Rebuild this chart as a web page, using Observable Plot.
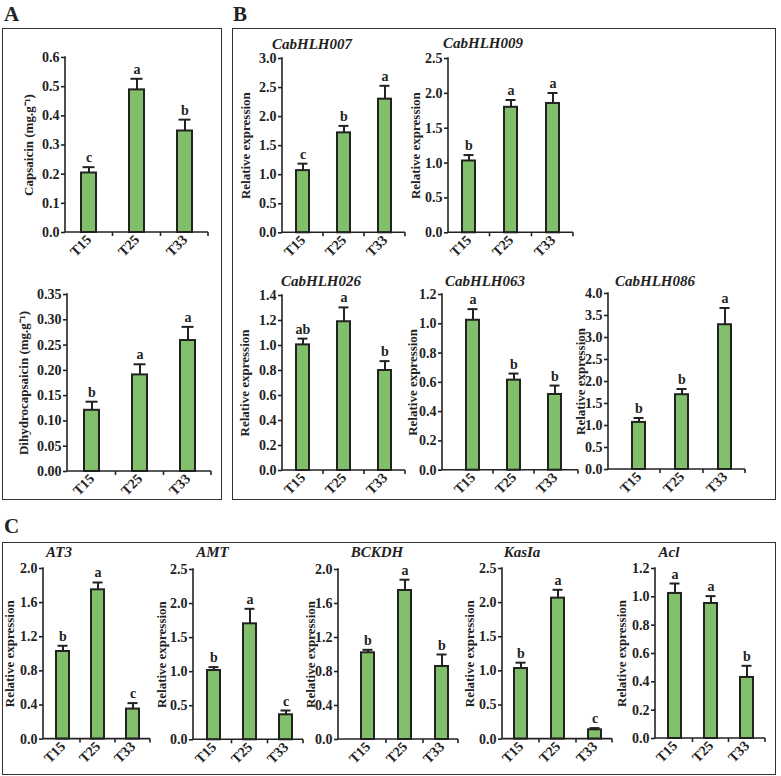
<!DOCTYPE html>
<html><head><meta charset="utf-8">
<script src="https://cdn.jsdelivr.net/npm/d3@7"></script>
<script src="https://cdn.jsdelivr.net/npm/@observablehq/plot@0.6"></script>
<style>
html,body{margin:0;padding:0;background:#fff;}
#root{position:relative;width:781px;height:776px;overflow:hidden;font-family:"Liberation Serif","Times New Roman",serif;color:#222;background:#fff;}
.box{position:absolute;border:1.5px solid #333;box-sizing:border-box;}
.panel{position:absolute;font-weight:bold;font-size:21px;line-height:1;}
.title{position:absolute;font-weight:bold;font-style:italic;font-size:15px;line-height:1;transform:translateX(-50%);white-space:nowrap;}
.chart{position:absolute;}
.chart svg{overflow:visible;max-width:none;}
</style></head><body><div id="root"></div>
<script>
const categories = ["T15", "T25", "T33"];

const capsaicinMean = [0.204, 0.489, 0.348];
const capsaicinSE = [0.020, 0.038, 0.039];
const capsaicinLetters = ["c", "a", "b"];

const dihydroMean = [0.121, 0.191, 0.259];
const dihydroSE = [0.017, 0.021, 0.027];
const dihydroLetters = ["b", "a", "a"];

const bHLH007Mean = [1.07, 1.72, 2.30];
const bHLH007SE = [0.12, 0.12, 0.23];
const bHLH007Letters = ["c", "b", "a"];

const bHLH009Mean = [1.03, 1.80, 1.855];
const bHLH009SE = [0.085, 0.105, 0.15];
const bHLH009Letters = ["b", "a", "a"];

const bHLH026Mean = [1.005, 1.19, 0.80];
const bHLH026SE = [0.05, 0.115, 0.075];
const bHLH026Letters = ["ab", "a", "b"];

const bHLH063Mean = [1.024, 0.615, 0.517];
const bHLH063SE = [0.076, 0.045, 0.061];
const bHLH063Letters = ["a", "b", "b"];

const bHLH086Mean = [1.07, 1.70, 3.29];
const bHLH086SE = [0.10, 0.13, 0.38];
const bHLH086Letters = ["b", "b", "a"];

const AT3Mean = [1.027, 1.75, 0.352];
const AT3SE = [0.067, 0.086, 0.07];
const AT3Letters = ["b", "a", "c"];

const AMTMean = [1.017, 1.703, 0.367];
const AMTSE = [0.05, 0.22, 0.063];
const AMTLetters = ["b", "a", "c"];

const BCKDHMean = [1.02, 1.753, 0.859];
const BCKDHSE = [0.035, 0.127, 0.141];
const BCKDHLetters = ["b", "a", "b"];

const KasIaMean = [1.034, 2.066, 0.136];
const KasIaSE = [0.086, 0.122, 0.025];
const KasIaLetters = ["b", "a", "c"];

const AclMean = [1.024, 0.953, 0.431];
const AclSE = [0.07, 0.052, 0.082];
const AclLetters = ["a", "a", "b"];

const INK = "#222";
const GREEN = "#82bf6b";
const SERIF = "'Liberation Serif','Times New Roman',serif";

// layout (pixel geometry of each small chart)
const layout = [
  {mean: capsaicinMean, se: capsaicinSE, letters: capsaicinLetters, ylabel: "Capsaicin (mg.g\u207B\u00B9)", max: 0.6, step: 0.1, fmt: ".1f", ax: 65, end: 208, top: 57, bot: 232, c1: 88, c3: 185, bw: 15, lab: 37},
  {mean: dihydroMean, se: dihydroSE, letters: dihydroLetters, ylabel: "Dihydrocapsaicin (mg.g\u207B\u00B9)", max: 0.35, step: 0.05, fmt: ".2f", ax: 67, end: 211, top: 294, bot: 471, c1: 91, c3: 187, bw: 15, lab: 44},
  {mean: bHLH007Mean, se: bHLH007SE, letters: bHLH007Letters, title: "CabHLH007", tx: 312, ty: 50, ylabel: "Relative expression", max: 3, step: 0.5, fmt: ".1f", ax: 282, end: 405, top: 57.7, bot: 232, c1: 301.7, c3: 385, bw: 13.5, lab: 37},
  {mean: bHLH009Mean, se: bHLH009SE, letters: bHLH009Letters, title: "CabHLH009", tx: 483, ty: 49, ylabel: "Relative expression", max: 2.5, step: 0.5, fmt: ".1f", ax: 448, end: 573, top: 57.7, bot: 232, c1: 468, c3: 553, bw: 13.5, lab: 33},
  {mean: bHLH026Mean, se: bHLH026SE, letters: bHLH026Letters, title: "CabHLH026", tx: 321, ty: 287, ylabel: "Relative expression", max: 1.4, step: 0.2, fmt: ".1f", ax: 282, end: 405, top: 295, bot: 470, c1: 301.7, c3: 385, bw: 13.5, lab: 38},
  {mean: bHLH063Mean, se: bHLH063SE, letters: bHLH063Letters, title: "CabHLH063", tx: 485, ty: 287, ylabel: "Relative expression", max: 1.2, step: 0.2, fmt: ".1f", ax: 442, end: 578, top: 294.3, bot: 470, c1: 471.7, c3: 555, bw: 13.5, lab: 30},
  {mean: bHLH086Mean, se: bHLH086SE, letters: bHLH086Letters, title: "CabHLH086", tx: 655, ty: 287, ylabel: "Relative expression", max: 4, step: 0.5, fmt: ".1f", ax: 608, end: 745, top: 293.3, bot: 469.3, c1: 638, c3: 725, bw: 13.5, lab: 28},
  {mean: AT3Mean, se: AT3SE, letters: AT3Letters, title: "AT3", tx: 59, ty: 558, ylabel: "Relative expression", max: 2, step: 0.4, fmt: ".1f", ax: 43, end: 150, top: 567.7, bot: 738.3, c1: 61.7, c3: 132.7, bw: 13, lab: 34},
  {mean: AMTMean, se: AMTSE, letters: AMTLetters, title: "AMT", tx: 212.5, ty: 558, ylabel: "Relative expression", max: 2.5, step: 0.5, fmt: ".1f", ax: 193, end: 303, top: 569, bot: 739.3, c1: 212.7, c3: 286, bw: 13, lab: 32},
  {mean: BCKDHMean, se: BCKDHSE, letters: BCKDHLetters, title: "BCKDH", tx: 377, ty: 558, ylabel: "Relative expression", max: 2, step: 0.4, fmt: ".1f", ax: 338, end: 458, top: 569, bot: 739, c1: 366.7, c3: 441.7, bw: 13, lab: 28},
  {mean: KasIaMean, se: KasIaSE, letters: KasIaLetters, title: "KasIa", tx: 522, ty: 558, ylabel: "Relative expression", max: 2.5, step: 0.5, fmt: ".1f", ax: 501.7, end: 611.7, top: 567.7, bot: 738.3, c1: 520, c3: 594, bw: 13, lab: 33},
  {mean: AclMean, se: AclSE, letters: AclLetters, title: "Acl", tx: 669, ty: 558, ylabel: "Relative expression", max: 1.2, step: 0.2, fmt: ".1f", ax: 655, end: 765, top: 568.3, bot: 738.3, c1: 673.3, c3: 746.7, bw: 13, lab: 34}
];

const boxes = [
  {x: 2, y: 28, w: 220, h: 472},
  {x: 232, y: 28, w: 544, h: 472},
  {x: 2, y: 542, w: 774, h: 233}
];
const panels = [
  {t: "A", x: 4, y: 22},
  {t: "B", x: 233, y: 22},
  {t: "C", x: 4, y: 534}
];

const root = document.getElementById("root");
for (const b of boxes) {
  const d = document.createElement("div");
  d.className = "box";
  Object.assign(d.style, {left: b.x + "px", top: b.y + "px", width: b.w + "px", height: b.h + "px"});
  root.appendChild(d);
}
for (const p of panels) {
  const d = document.createElement("div");
  d.className = "panel";
  d.textContent = p.t;
  Object.assign(d.style, {left: p.x + "px", top: (p.y - 0.837 * 21) + "px"});
  root.appendChild(d);
}

function axisLines(index, scales, values, dims) {
  const g = d3.create("svg:g").attr("stroke", INK).attr("stroke-width", 1.6).attr("fill", "none");
  const {marginLeft: l, marginTop: t, marginRight: r, marginBottom: b, width: w, height: h} = dims;
  const y0 = h - b;
  g.append("line").attr("x1", l).attr("x2", l).attr("y1", t - 0.8).attr("y2", y0);
  g.append("line").attr("x1", l).attr("x2", w - r).attr("y1", y0).attr("y2", y0);
  const xs = scales.x;
  const bw = typeof xs.bandwidth === "function" ? xs.bandwidth() : (xs.bandwidth || 0);
  const centers = categories.map(c => xs(c) + bw / 2);
  const ticks = [];
  for (let i = 0; i < centers.length - 1; i++) ticks.push((centers[i] + centers[i + 1]) / 2);
  ticks.push(w - r);
  for (const tx of ticks) g.append("line").attr("x1", tx).attr("x2", tx).attr("y1", y0).attr("y2", y0 + 4);
  return g.node();
}

function chart(s) {
  const mL = 60, mR = 6, mT = 24, mB = 40;
  const data = categories.map((c, i) => ({cat: c, mean: s.mean[i], top: s.mean[i] + s.se[i], letter: s.letters[i]}));
  const stepPx = (s.c3 - s.c1) / 2;
  const insetLeft = s.c1 - stepPx / 2 - s.ax;
  const insetRight = s.end - (s.c3 + stepPx / 2);
  const pi = 1 - s.bw / stepPx;
  const n = Math.round(s.max / s.step);
  const ticks = d3.range(0, n + 1).map(k => +(k * s.step).toFixed(4));
  const plot = Plot.plot({
    width: mL + (s.end - s.ax) + mR,
    height: mT + (s.bot - s.top) + mB,
    marginLeft: mL, marginRight: mR, marginTop: mT, marginBottom: mB,
    style: {fontFamily: SERIF, fontWeight: "bold", color: INK, background: "transparent", overflow: "visible"},
    x: {domain: categories, paddingInner: pi, paddingOuter: pi / 2, insetLeft, insetRight},
    y: {domain: [0, s.max]},
    marks: [
      Plot.barY(data, {x: "cat", y: "mean", fill: GREEN, stroke: INK, strokeWidth: 2}),
      Plot.ruleX(data, {x: "cat", y1: "mean", y2: "top", stroke: INK, strokeWidth: 2}),
      Plot.tickY(data, {x: "cat", y: "top", stroke: INK, strokeWidth: 2, insetLeft: 1.5, insetRight: 1.5}),
      Plot.text(data, {x: "cat", y: "top", text: "letter", dy: -5, lineAnchor: "bottom", fontSize: 14, fontWeight: "bold", fill: INK}),
      Plot.axisY({ticks, tickFormat: d3.format(s.fmt), tickSize: 4, tickPadding: 2, fontSize: 14, strokeWidth: 1.6, stroke: INK, fill: INK, label: null}),
      Plot.text([s.ylabel], {text: d => d, frameAnchor: "left", rotate: -90, dx: -s.lab, textAnchor: "middle", lineAnchor: "middle", fontSize: 13, fontWeight: "bold", fill: INK}),
      Plot.axisX({tickSize: 0, tickRotate: -45, fontSize: 14, tickPadding: 5, fill: INK, label: null}),
      axisLines
    ]
  });
  const d = document.createElement("div");
  d.className = "chart";
  Object.assign(d.style, {left: (s.ax - mL) + "px", top: (s.top - mT) + "px"});
  d.appendChild(plot);
  root.appendChild(d);
  if (s.title) {
    const t = document.createElement("div");
    t.className = "title";
    t.textContent = s.title;
    Object.assign(t.style, {left: s.tx + "px", top: (s.ty - 0.837 * 15) + "px"});
    root.appendChild(t);
  }
}
layout.forEach(chart);
</script></body></html>
